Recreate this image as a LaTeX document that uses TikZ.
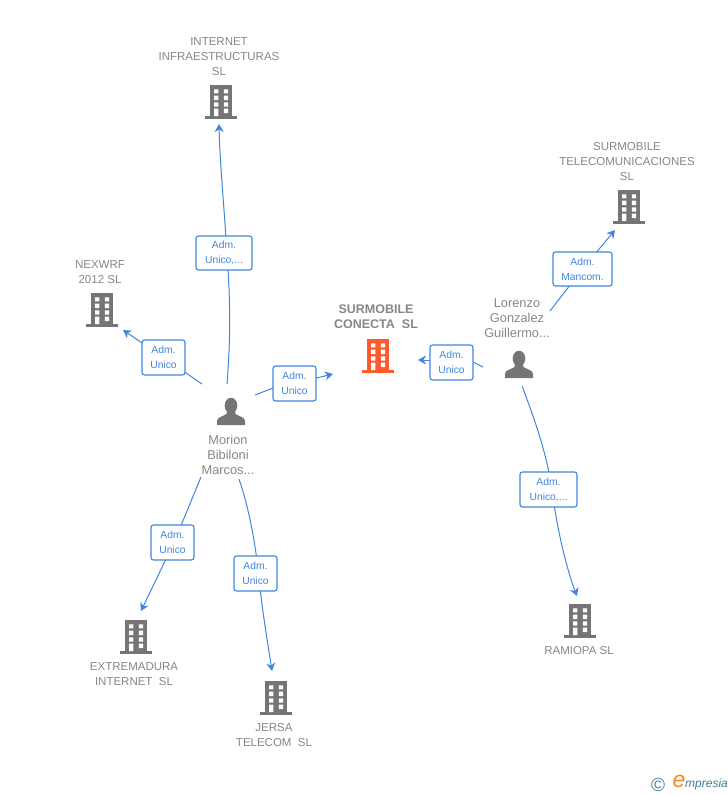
\documentclass[tikz,border=0pt]{standalone}
\usepackage{fontspec}
\setmainfont{Liberation Sans}
\usetikzlibrary{arrows.meta}
\definecolor{grayicon}{HTML}{757575}
\definecolor{graytext}{HTML}{868686}
\definecolor{linkblue}{HTML}{3F86E0}
\definecolor{hilite}{HTML}{FF5A2C}
\definecolor{logoteal}{HTML}{3F7F96}
\definecolor{logoorange}{HTML}{F08A1D}
\tikzset{
  x=1pt,y=-1pt,
  linkbox/.style={draw=linkblue,line width=1.1pt,rounded corners=2.5pt,fill=white,text=linkblue,
    font=\fontsize{10.3}{15}\selectfont,align=center,inner sep=0pt,minimum height=35pt},
  narrowbox/.style={linkbox,minimum width=43pt},
  widebox/.style={linkbox,minimum width=57pt},
  link/.style={draw=linkblue,line width=1pt},
  linkarrow/.style={link,-{Stealth[length=8pt,width=9pt,inset=2.5pt]}},
  entity/.style={text=graytext,font=\fontsize{11.5}{15}\selectfont,align=center,inner sep=0pt},
  personname/.style={entity,font=\fontsize{12.8}{15}\selectfont},
}
\newcommand\bld[4]{% name, x, top y, colour
  \begin{scope}[shift={(#2,#3)}]
    \fill[#4] (-11,0) rectangle (11,31);
    \fill[#4] (-16,31) rectangle (16,34);
    \fill[white] (-7,4.3) rectangle (-2.6,8.3) (2.8,4.3) rectangle (7.2,8.3)
      (-7,10.7) rectangle (-2.6,15) (2.8,10.7) rectangle (7.2,15)
      (-7,17.3) rectangle (-2.6,21.7) (2.8,17.3) rectangle (7.2,21.7)
      (-7,23.7) rectangle (-2.6,31) (2.8,23.7) rectangle (7.2,28);
    \coordinate (#1) at (0,17);
  \end{scope}}
\newcommand\psn[3]{% name, x, top y
  \begin{scope}[shift={(#2,#3)}]
    \fill[grayicon] (0,7.5) ellipse (6.3 and 7.8);
    \fill[grayicon] (-14,27) -- (-14,23) .. controls (-14,19) and (-8,18.5) .. (-4.5,16)
      -- (-4,12) -- (4,12) -- (4.5,16) .. controls (8,18.5) and (14,19) .. (14,23) -- (14,27) -- cycle;
    \coordinate (#1) at (0,14);
  \end{scope}}
\begin{document}
\begin{tikzpicture}
\useasboundingbox (0,0) rectangle (728,795);
% buildings
\bld{bInternet}{221}{85}{grayicon}
\bld{bNexwrf}{102}{293}{grayicon}
\bld{bConecta}{378}{339}{hilite}
\bld{bTelecom}{629}{190}{grayicon}
\bld{bExtrem}{136}{620}{grayicon}
\bld{bJersa}{276}{681}{grayicon}
\bld{bRamiopa}{580}{604}{grayicon}
% persons
\psn{pMorion}{231}{398}
\psn{pLorenzo}{519}{351}
% names
\node[entity] (tInternet) at (219,56.5) {INTERNET\\INFRAESTRUCTURAS\\SL};
\node[entity] (tNexwrf) at (100,272) {NEXWRF\\2012 SL};
\node[entity,font=\fontsize{12.5}{15}\bfseries\selectfont] (tConecta) at (376,317) {SURMOBILE\\CONECTA\ \ SL};
\node[entity] (tTelecom) at (627,162) {SURMOBILE\\TELECOMUNICACIONES\\SL};
\node[entity] (tExtrem) at (134,674) {EXTREMADURA\\INTERNET\ \ SL};
\node[entity] (tJersa) at (274,735) {JERSA\\TELECOM\ \ SL};
\node[entity] (tRamiopa) at (579,651) {RAMIOPA SL};
\node[personname] (tMorion) at (228,455) {Morion\\Bibiloni\\Marcos...};
\node[personname] (tLorenzo) at (517,318) {Lorenzo\\Gonzalez\\Guillermo...};
% free ends
\coordinate (sInternet) at (227,384);
\coordinate (eInternet) at (219,124);
\coordinate (sNexwrf) at (202,384);
\coordinate (eNexwrf) at (123,330);
\coordinate (sConecta) at (255,395);
\coordinate (eConecta) at (333,374);
\coordinate (sExtrem) at (201,477);
\coordinate (eExtrem) at (141,611);
\coordinate (sJersa) at (239,479);
\coordinate (eJersa) at (272,671);
\coordinate (sLorenzo) at (483,367);
\coordinate (eLorenzo) at (418,360);
\coordinate (sTelecom) at (550,311);
\coordinate (eTelecom) at (615,230);
\coordinate (sRamiopa) at (522,386);
\coordinate (eRamiopa) at (577,596);
% points where the connectors pass behind their labels
\coordinate (cInternet) at (227,253);
\coordinate (cNexwrf) at (163.5,357.5);
\coordinate (cConeA) at (290,381.4);
\coordinate (cConeB) at (300,382);
\coordinate (cExtrem) at (174,542.5);
\coordinate (cJersa) at (258.5,573.5);
\coordinate (cLorA) at (463,357);
\coordinate (cLorB) at (445,360);
\coordinate (cTelecom) at (582.5,269);
\coordinate (cRamiopa) at (552,489.5);
% connectors
\draw[link] (sInternet) .. controls (231,335) and (230,295) .. (cInternet);
\draw[linkarrow] (cInternet) .. controls (224,205) and (220,165) .. (eInternet);
\draw[link] (sNexwrf) -- (cNexwrf);
\draw[linkarrow] (cNexwrf) -- (eNexwrf);
\draw[link] (sConecta) -- (cConeA);
\draw[linkarrow] (cConeB) -- (eConecta);
\draw[link] (sExtrem) -- (cExtrem);
\draw[linkarrow] (cExtrem) -- (eExtrem);
\draw[link] (sJersa) .. controls (248,505) and (255,540) .. (cJersa);
\draw[linkarrow] (cJersa) .. controls (262,610) and (268,645) .. (eJersa);
\draw[link] (sLorenzo) -- (cLorA);
\draw[linkarrow] (cLorB) -- (eLorenzo);
\draw[link] (sTelecom) -- (cTelecom);
\draw[linkarrow] (cTelecom) -- (eTelecom);
\draw[link] (sRamiopa) .. controls (535,420) and (547,455) .. (cRamiopa);
\draw[linkarrow] (cRamiopa) .. controls (557,530) and (567,570) .. (eRamiopa);
% link labels
\node[linkbox,minimum width=56pt,minimum height=34pt] (lInternet) at (224,253) {Adm.\\Unico,...};
\node[narrowbox] (lNexwrf) at (163.5,357.5) {Adm.\\Unico};
\node[narrowbox] (lConecta) at (294.5,383.5) {Adm.\\Unico};
\node[narrowbox] (lExtrem) at (172.5,542.5) {Adm.\\Unico};
\node[narrowbox] (lJersa) at (255.5,573.5) {Adm.\\Unico};
\node[narrowbox] (lLorenzo) at (451.5,362.5) {Adm.\\Unico};
\node[widebox,minimum width=59pt,minimum height=34pt] (lTelecom) at (582.5,269) {Adm.\\Mancom.};
\node[widebox] (lRamiopa) at (548.5,489.5) {Adm.\\Unico,...};
% logo
\node[inner sep=0pt,text=logoteal,font=\fontsize{19}{19}\selectfont] (logoC) at (658,784.5) {©};
\node[inner sep=0pt,text=logoorange,font=\itshape\fontsize{23}{23}\selectfont] (logoE) at (679,781.5) {e};
\node[inner sep=0pt,anchor=west,text=logoteal,font=\itshape\fontsize{12}{14}\selectfont] (logoT) at (685,784.5) {mpresia};
\end{tikzpicture}
\end{document}
